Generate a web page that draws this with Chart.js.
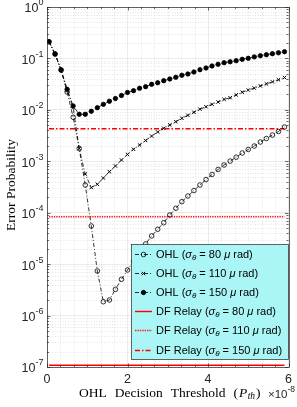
<!DOCTYPE html>
<html><head><meta charset="utf-8">
<script src="https://cdn.jsdelivr.net/npm/chart.js@4/dist/chart.umd.min.js"></script>
<style>html,body{margin:0;padding:0;background:#fff}#wrap{width:297px;height:407px;position:relative}</style>
</head><body><div id="wrap"><canvas id="c" width="297" height="407"></canvas></div>
<script>
// ---- data (x in units of 1e-8) ----
const thresholds = [0.05,0.2,0.35,0.5,0.65,0.8,0.95,1.1,1.25,1.4,1.55,1.7,1.85,2.0,2.15,2.3,2.45,2.6,2.75,2.9,3.05,3.2,3.35,3.5,3.65,3.8,3.95,4.1,4.25,4.4,4.55,4.7,4.85,5.0,5.15,5.3,5.45,5.6,5.75,5.9];
const ohl80 = [0.211,0.122,0.0596,0.0223,0.00717,0.00177,3.46e-4,5.52e-5,7.36e-6,1.86e-6,2.01e-6,3.24e-6,5.08e-6,7.70e-6,1.15e-5,1.68e-5,2.47e-5,3.53e-5,4.76e-5,6.39e-5,9.03e-5,1.22e-4,1.64e-4,2.11e-4,2.70e-4,3.46e-4,4.42e-4,5.54e-4,6.93e-4,8.47e-4,1.01e-3,1.20e-3,1.45e-3,1.70e-3,1.98e-3,2.37e-3,2.77e-3,3.24e-3,3.80e-3,4.64e-3];
const ohl110 = [0.211,0.122,0.0596,0.0238,0.0111,0.00177,5.66e-4,3.09e-4,3.57e-4,4.73e-4,6.27e-4,8.10e-4,1.06e-3,1.36e-3,1.71e-3,2.07e-3,2.54e-3,3.10e-3,3.71e-3,4.38e-3,5.08e-3,5.89e-3,6.86e-3,7.84e-3,8.97e-3,0.0103,0.0115,0.0128,0.0142,0.0160,0.0172,0.0195,0.0220,0.0243,0.0265,0.0292,0.0320,0.0350,0.0385,0.0425];
const ohl150 = [0.211,0.122,0.0596,0.0251,0.0119,0.0082,0.0082,0.0094,0.0110,0.0128,0.0147,0.0166,0.0190,0.0218,0.0236,0.0263,0.0282,0.0314,0.0337,0.0369,0.0398,0.0430,0.0470,0.0498,0.0545,0.0604,0.0651,0.0713,0.0769,0.0826,0.0860,0.0904,0.0962,0.1006,0.1071,0.1130,0.1181,0.1236,0.1287,0.1352];
const relayX = [0.05, 5.9];
const relay80 = [1.08e-7, 1.08e-7];
const relay110 = [8.37e-5, 8.37e-5];
const relay150 = [4.30e-3, 4.30e-3];
const xTickValues = [0, 2, 4, 6];
const yTickValues = [1e-7, 1e-6, 1e-5, 1e-4, 1e-3, 1e-2, 1e-1, 1];
const yTickExponents = ['-7', '-6', '-5', '-4', '-3', '-2', '-1', '0'];
const legendNames = ['OHL', 'OHL', 'OHL', 'DF Relay', 'DF Relay', 'DF Relay'];
const legendSigmas = ['80', '110', '150', '80', '110', '150'];
const yTitle = 'Error Probability';
const xTitleWords = ['OHL', 'Decision', 'Threshold'];
const xExponent = '-8';

const pts = (xs, ys) => xs.map((x, i) => ({x, y: ys[i]}));

const DD = [4, 2, 1, 2];
const styles = [
  {data: pts(thresholds, ohl80), borderColor:'#000', borderWidth:0.8, borderDash:DD, pointStyle:'circle', pointRadius:2.3, pointBorderWidth:0.8, pointBorderColor:'#000', pointBackgroundColor:'rgba(0,0,0,0)'},
  {data: pts(thresholds, ohl110), borderColor:'#000', borderWidth:0.8, borderDash:DD, pointStyle:'crossRot', pointRadius:2.4, pointBorderWidth:1, pointBorderColor:'#000', pointBackgroundColor:'#000'},
  {data: pts(thresholds, ohl150), borderColor:'#000', borderWidth:0.8, borderDash:DD, pointStyle:'circle', pointRadius:2.2, pointBorderWidth:0.8, pointBorderColor:'#000', pointBackgroundColor:'#000'},
  {data: pts(relayX, relay80), borderColor:'#ff0000', borderWidth:1.4, borderDash:[], pointRadius:0},
  {data: pts(relayX, relay110), borderColor:'#ff1a1a', borderWidth:1.6, borderDash:[1.4,1], pointRadius:0},
  {data: pts(relayX, relay150), borderColor:'#ff0000', borderWidth:1.4, borderDash:[5,2,1.5,2], pointRadius:0}
];
const datasets = styles.map((s, i) => Object.assign({label: legendNames[i] + ' (\u03C3\u03B8 = ' + legendSigmas[i] + ' \u03BC rad)', showLine:true, fill:false, tension:0}, s));

function drawRich(ctx, parts, x, y) {
  for (const p of parts) {
    ctx.font = p.f;
    ctx.fillText(p.t, x, y + (p.dy || 0));
    x += ctx.measureText(p.t).width + (p.gap || 0);
  }
  return x;
}
function richWidth(ctx, parts) {
  let w = 0;
  for (const p of parts) { ctx.font = p.f; w += ctx.measureText(p.t).width + (p.gap || 0); }
  return w;
}

const SANS = '"Liberation Sans", Arial, sans-serif';
const SERIF = '"Liberation Serif", "Times New Roman", serif';

const deco = {
  id: 'deco',
  beforeDatasetsDraw(chart) {
    const {ctx, chartArea: a, scales: {x, y}} = chart;
    ctx.save();
    ctx.strokeStyle = '#d2d2d2'; ctx.lineWidth = 0.6; ctx.setLineDash([1, 1.6]);
    ctx.beginPath();
    for (let e = -7; e < 0; e++) for (let m = 2; m < 10; m++) {
      const py = Math.round(y.getPixelForValue(m * Math.pow(10, e))) + 0.5;
      ctx.moveTo(a.left, py); ctx.lineTo(a.right, py);
    }
    for (let k = 1; k < 18; k++) { if (k % 6 === 0) continue;
      const px = Math.round(x.getPixelForValue(k / 3)) + 0.5;
      ctx.moveTo(px, a.top); ctx.lineTo(px, a.bottom);
    }
    ctx.stroke();
    ctx.restore();
  },
  afterDatasetsDraw(chart) {
    const {ctx, chartArea: a, scales: {x, y}} = chart;
    ctx.save();
    // inward ticks
    ctx.strokeStyle = '#262626'; ctx.lineWidth = 0.7; ctx.setLineDash([]);
    ctx.beginPath();
    for (let e = -7; e <= 0; e++) for (let m = 1; m < 10; m++) {
      const v = m * Math.pow(10, e); if (v > 1) break;
      const py = Math.round(y.getPixelForValue(v)) + 0.5, L = m === 1 ? 3.5 : 2;
      ctx.moveTo(a.left, py); ctx.lineTo(a.left + L, py);
      ctx.moveTo(a.right, py); ctx.lineTo(a.right - L, py);
    }
    for (let k = 0; k <= 18; k++) {
      const px = Math.round(x.getPixelForValue(k / 3)) + 0.5, L = k % 6 === 0 ? 3.5 : 2;
      ctx.moveTo(px, a.bottom); ctx.lineTo(px, a.bottom - L);
      ctx.moveTo(px, a.top); ctx.lineTo(px, a.top + L);
    }
    ctx.stroke();
    ctx.strokeRect(Math.round(a.left) + 0.5, Math.round(a.top) + 0.5, Math.round(a.right - a.left), Math.round(a.bottom - a.top));
    // legend
    const bx = 131.5, by = 244.5, bw = 157, bh = 115;
    ctx.fillStyle = '#aaf6f6';
    ctx.fillRect(bx, by, bw, bh);
    ctx.strokeStyle = '#262626'; ctx.lineWidth = 0.7;
    ctx.strokeRect(bx, by, bw, bh);
    chart.data.datasets.forEach((d, i) => {
      const cy = Math.round(254 + i * 19.1) + 0.5;
      ctx.save();
      ctx.strokeStyle = d.borderColor; ctx.lineWidth = d.borderWidth; ctx.setLineDash(d.borderDash || []);
      ctx.beginPath(); ctx.moveTo(135, cy); ctx.lineTo(152, cy); ctx.stroke();
      ctx.setLineDash([]);
      if (d.pointRadius > 0) {
        ctx.fillStyle = d.pointBackgroundColor; ctx.strokeStyle = d.pointBorderColor; ctx.lineWidth = d.pointBorderWidth;
        Chart.helpers.drawPoint(ctx, {pointStyle: d.pointStyle, radius: d.pointRadius, borderWidth: d.pointBorderWidth, rotation: 0}, 143.5, cy);
      }
      ctx.restore();
      ctx.fillStyle = '#000'; ctx.textBaseline = 'middle'; ctx.textAlign = 'left';
      const F = '11px ' + SANS, FI = 'italic 11px ' + SANS, FS = 'italic 8px ' + SANS;
      drawRich(ctx, [
        {t: legendNames[i] + ' (', f: F}, {t: '\u03C3', f: FI}, {t: '\u03B8', f: FS, dy: 3},
        {t: ' = ' + legendSigmas[i] + ' ', f: F}, {t: '\u03BC', f: FI}, {t: ' rad)', f: F}
      ], 156, cy);
    });
    ctx.restore();
  },
  afterDraw(chart) {
    const {ctx, chartArea: a, scales: {y}} = chart;
    ctx.save();
    ctx.fillStyle = '#262626'; ctx.textBaseline = 'middle'; ctx.textAlign = 'left';
    // y tick labels 10^n
    yTickValues.forEach((v, i) => {
      const py = y.getPixelForValue(v);
      const parts = [{t: '10', f: '12.5px ' + SANS, dy: 2}, {t: yTickExponents[i], f: '9px ' + SANS, dy: -4}];
      drawRich(ctx, parts, 43.5 - richWidth(ctx, parts), py);
    });
    ctx.fillStyle = '#000';
    // y title
    ctx.save();
    ctx.translate(11, (a.top + a.bottom) / 2 - 2);
    ctx.rotate(-Math.PI / 2);
    ctx.textAlign = 'center';
    ctx.font = '13.5px ' + SERIF;
    ctx.fillText(yTitle, 0, 0);
    ctx.restore();
    // x title
    ctx.textAlign = 'left';
    const SF = '13.5px ' + SERIF, SI = 'italic 13.5px ' + SERIF, SS = 'italic 9.5px ' + SERIF;
    let cx = 79; const cy = 393;
    xTitleWords.forEach(w => { cx = drawRich(ctx, [{t: w, f: SF}], cx, cy) + 8; });
    cx = drawRich(ctx, [{t: '(', f: SF, gap: 1}, {t: 'P', f: SI, gap: 0.5}, {t: 'th', f: SS, dy: 3, gap: 1}, {t: ')', f: SF}], cx, cy);
    // exponent label
    ctx.fillStyle = '#262626';
    drawRich(ctx, [{t: '\u00D710', f: '11.5px ' + SANS, dy: 2}, {t: xExponent, f: '8.5px ' + SANS, dy: -3}], 268, cy);
    ctx.restore();
  }
};

new Chart(document.getElementById('c'), {
  type: 'line',
  data: {datasets},
  options: {
    responsive: false, animation: false, devicePixelRatio: 1,
    layout: {padding: {top: 7, right: 5, left: 0, bottom: 0}},
    plugins: {legend: {display: false}, tooltip: {enabled: false}},
    scales: {
      x: {type: 'linear', min: 0, max: 6,
        afterBuildTicks: s => { s.ticks = xTickValues.map(v => ({value: v})); },
        afterFit: s => { s.height = 40; },
        grid: {color: '#e2e2e2', lineWidth: 0.7, drawTicks: false},
        border: {display: false},
        ticks: {padding: 5, maxRotation: 0, color: '#262626', font: {family: SANS, size: 12.5}}
      },
      y: {type: 'logarithmic', min: 1e-7, max: 1,
        afterBuildTicks: s => { s.ticks = yTickValues.map(v => ({value: v})); },
        afterFit: s => { s.width = 47; },
        grid: {color: '#e2e2e2', lineWidth: 0.7, drawTicks: false},
        border: {display: false},
        ticks: {display: false}
      }
    }
  },
  plugins: [deco]
});
</script>
</body></html>
